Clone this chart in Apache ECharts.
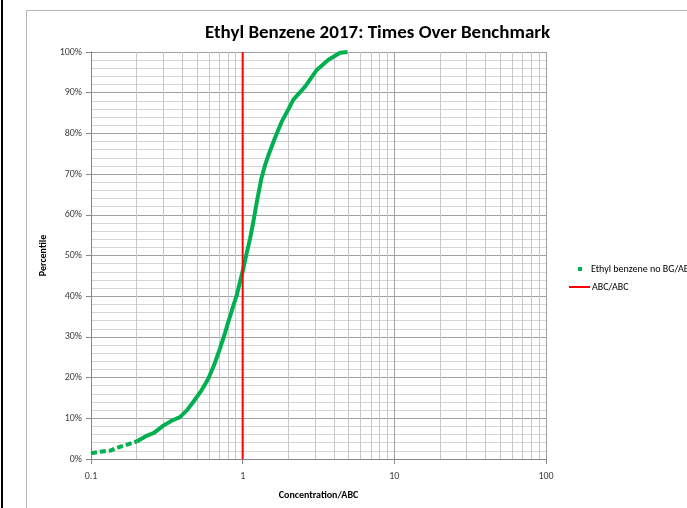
<!DOCTYPE html>
<html>
<head>
<meta charset="utf-8">
<script src="https://cdn.jsdelivr.net/npm/echarts@6/dist/echarts.min.js"></script>
<style>
  html, body { margin: 0; padding: 0; background: #fff; }
  #wrap { position: relative; width: 687px; height: 508px; overflow: hidden; }
  #chart { position: absolute; left: 0; top: 0; width: 687px; height: 508px; }
  #edge { position: absolute; left: 1px; top: 0; width: 2px; height: 508px; background: #000; }
  #frame { position: absolute; left: 26px; top: 10px; width: 800px; height: 600px; border: 1px solid #b8b8b8; box-sizing: border-box; pointer-events: none; }
</style>
</head>
<body>
<div id="wrap">
  <div id="chart"></div>
  <div id="frame"></div>
  <div id="edge"></div>
</div>
<script>
// Cumulative distribution of sample concentrations relative to the benchmark
const concentration = [0.100, 0.115, 0.135, 0.155, 0.175, 0.200, 0.230, 0.260, 0.300, 0.340,
  0.386, 0.430, 0.472, 0.530, 0.593, 0.650, 0.708, 0.760, 0.804, 0.860,
  0.913, 0.960, 1.01, 1.06, 1.12, 1.18, 1.24, 1.33, 1.40, 1.48,
  1.63, 1.81, 2.00, 2.16, 2.58, 3.08, 3.68, 4.39, 4.91];
const percentile = [1.4, 1.8, 2.1, 3.0, 3.6, 4.3, 5.6, 6.4, 8.2, 9.4,
  10.3, 12.0, 14.0, 16.6, 19.7, 23.2, 27.1, 30.6, 33.7, 37.2,
  40.2, 43.5, 46.8, 50.4, 54.2, 58.6, 63.2, 69.0, 72.0, 74.7,
  78.8, 82.9, 85.9, 88.3, 91.5, 95.6, 98.1, 99.8, 100];
// Below this concentration the samples are sparse and the markers show gaps
const sparseBelow = 0.2;

// Benchmark line (ratio = 1)
const benchmarkX = [1, 1];
const benchmarkY = [0, 100];

const xTicks = [0.1, 1, 10, 100];
const seriesName = 'Ethyl benzene no BG/ABC';
const benchName = 'ABC/ABC';

const points = concentration.map((c, i) => [c, percentile[i]]);
const splitAt = concentration.findIndex(c => c >= sparseBelow);
const sparsePts = points.slice(0, splitAt + 1);
const densePts = points.slice(splitAt);
const benchPts = benchmarkX.map((x, i) => [x, benchmarkY[i]]);

const FONT = 'Carlito, "Liberation Sans Narrow", "Liberation Sans", sans-serif';
const green = '#00B050';

const chart = echarts.init(document.getElementById('chart'), null, { renderer: 'canvas' });
chart.setOption({
  animation: false,
  backgroundColor: 'transparent',
  title: {
    text: 'Ethyl Benzene 2017: Times Over Benchmark',
    left: 200, top: 19,
    textStyle: { fontFamily: FONT, fontSize: 19, fontWeight: 'bold', color: '#000' }
  },
  grid: { left: 91, right: 141, top: 52, bottom: 49, containLabel: false, outerBoundsMode: 'none' },
  legend: [
    {
      data: [{ name: seriesName, icon: 'rect' }],
      left: 573, top: 259, itemWidth: 4, itemHeight: 4,
      textStyle: { fontFamily: FONT, fontSize: 10, color: '#000', padding: [0, 0, 0, 4] },
      selectedMode: false
    },
    {
      data: [{ name: benchName, icon: 'rect' }],
      left: 564, top: 277, itemWidth: 21, itemHeight: 2, itemGap: 0,
      textStyle: { fontFamily: FONT, fontSize: 10, color: '#000', padding: [0, 0, 0, -3] },
      selectedMode: false
    }
  ],
  xAxis: {
    type: 'log', logBase: 10, min: xTicks[0], max: xTicks[xTicks.length - 1],
    name: 'Concentration/ABC', nameLocation: 'middle', nameGap: 31,
    nameTextStyle: { fontFamily: FONT, fontSize: 10, fontWeight: 'bold', color: '#000' },
    axisLine: { show: true, lineStyle: { color: '#868686', width: 1 } },
    axisTick: { show: true, length: 5, lineStyle: { color: '#868686' } },
    axisLabel: { fontFamily: FONT, fontSize: 10, color: '#404040', margin: 12,
      formatter: v => String(v) },
    splitLine: { show: true, lineStyle: { color: '#a0a0a0', width: 1 } },
    minorTick: { show: false, splitNumber: 9 },
    minorSplitLine: { show: true, lineStyle: { color: '#c8c8c8', width: 1 } }
  },
  yAxis: {
    type: 'value', min: 0, max: 100, interval: 10,
    name: 'Percentile', nameLocation: 'middle', nameGap: 39, nameRotate: 90,
    nameTextStyle: { fontFamily: FONT, fontSize: 10, fontWeight: 'bold', color: '#000' },
    axisLine: { show: true, lineStyle: { color: '#868686', width: 1 } },
    axisTick: { show: true, length: 5, lineStyle: { color: '#868686' } },
    axisLabel: { fontFamily: FONT, fontSize: 10, color: '#404040', margin: 9, formatter: '{value}%' },
    splitLine: { show: true, lineStyle: { color: '#a0a0a0', width: 1 } },
    minorTick: { show: false, splitNumber: 5 },
    minorSplitLine: { show: true, lineStyle: { color: '#d6d6d6', width: 1 } }
  },
  series: [
    {
      name: seriesName, type: 'line', data: sparsePts, showSymbol: false, symbol: 'none',
      color: green, lineStyle: { color: green, width: 4, type: [6, 3] }, z: 3
    },
    {
      name: seriesName, type: 'line', data: densePts, showSymbol: false, symbol: 'none',
      color: green, lineStyle: { color: green, width: 4 }, z: 3
    },
    {
      name: benchName, type: 'line', data: benchPts, showSymbol: false, symbol: 'none',
      color: '#FF0000', lineStyle: { color: '#FF0000', width: 2 }, z: 4
    }
  ]
});
</script>
</body>
</html>
